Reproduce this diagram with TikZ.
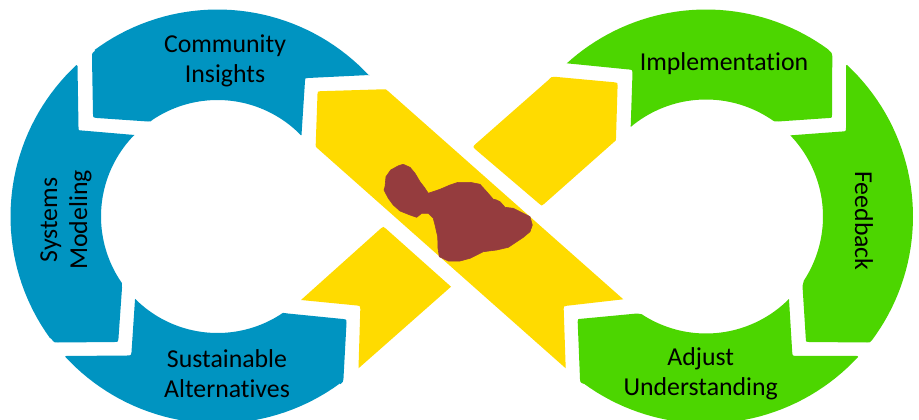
\documentclass[tikz,border=0pt]{standalone}
\usepackage{fontspec}
\setmainfont{Carlito}[Ligatures=NoCommon]
\definecolor{blueseg}{HTML}{0094C1}
\definecolor{greenseg}{HTML}{4CD600}
\definecolor{yellowseg}{HTML}{FFDB00}
\definecolor{mauibrown}{HTML}{953C3E}
\tikzset{
  lbl/.style={align=center,text=black,inner sep=0pt,font=\fontsize{25.8}{30}\selectfont},
  blueshape/.style={fill=blueseg},
  greenshape/.style={fill=greenseg},
  yellowshape/.style={fill=yellowseg}
}
\begin{document}
\begin{tikzpicture}[x=1pt,y=-1pt,samples=40,
  declare function={
    lx(\a,\r)=217.5+\r*cos(\a); ly(\a,\r)=216.5+\r*sin(\a);
    rx(\a,\r)=706+\r*cos(\a);   ry(\a,\r)=216.5+\r*sin(\a);
  }]
\useasboundingbox (0,0) rectangle (919,420);
\clip (0,0) rectangle (919,420);
\fill[white] (0,0) rectangle (919,420);

% Blue: Community Insights
\fill[blueshape] (92,58) .. controls (92,53) .. (95.5,50.5)
  -- plot[domain=-126.5:-43] ({lx(\x,207)},{ly(\x,207)})
  -- (369.5,75) -- (308,78) .. controls (305,78) .. (305,81) -- (301.5,135)
  -- plot[domain=-44.3:-123.8] ({lx(\x,116.5)},{ly(\x,116.5)})
  .. controls (151,121.5) .. (148,121.5) -- (97,118) .. controls (93,117.5) .. (93,114) -- cycle;
% Blue: Systems Modeling
\fill[blueshape] (77.5,66)
  -- (78.5,127) .. controls (78.5,130.5) .. (82,130.5) -- (134.5,135)
  -- plot[domain=-135.7:-214.7] ({lx(\x,116.5)},{ly(\x,116.5)})
  .. controls (122,284) .. (122,288) -- (118.5,338) .. controls (118,342) .. (114.5,342)
  -- (58,342.5) .. controls (54,342.5) .. (51.5,339)
  -- plot[domain=-215.9:-133] ({lx(\x,207)},{ly(\x,207)}) -- cycle;
% Blue: Sustainable Alternatives
\fill[blueshape] (66,356) -- (127,355.5) .. controls (131,355.5) .. (131.5,352) -- (135,299.5)
  -- plot[domain=135:55.8] ({lx(\x,116.5)},{ly(\x,116.5)})
  .. controls (285,313) .. (288,313.5) -- (343,319) .. controls (346.5,319.5) .. (346.5,323)
  -- (343.5,378) .. controls (343,382) .. (340.5,384)
  -- plot[domain=53.8:137.4] ({lx(\x,207)},{ly(\x,207)}) -- cycle;

% Green: Implementation
\fill[greenshape] (566.7,63.3) -- (629,69.5) .. controls (632.5,70) .. (632.5,73) -- (630.7,126.5)
  -- plot[domain=-129.8:-55.1] ({rx(\x,117)},{ry(\x,117)})
  .. controls (774.5,121.5) .. (778,121.5) -- (829,118) .. controls (832,118) .. (832,115)
  -- (832.3,56) .. controls (832,53) .. (828.5,50)
  -- plot[domain=-53.8:-132.3] ({rx(\x,207)},{ry(\x,207)}) -- cycle;
% Green: Feedback
\fill[greenshape] (846,65.7)
  -- plot[domain=-47.1:36.7] ({rx(\x,207)},{ry(\x,207)})
  .. controls (870,342.5) .. (867,342.5) -- (809,342) .. controls (806,342) .. (805.8,338.5)
  -- (802.5,286) .. controls (802.3,283) .. (804,280)
  -- plot[domain=32.9:-43.9] ({rx(\x,117)},{ry(\x,117)})
  -- (842,131.5) .. controls (846,131.3) .. (846,127.5) -- cycle;
% Green: Adjust Understanding
\fill[greenshape] (857.3,356) -- (796,355.8) .. controls (792.5,355.8) .. (792.2,352) -- (789,299.3)
  -- plot[domain=44.9:123.4] ({rx(\x,117)},{ry(\x,117)})
  .. controls (640,313.5) .. (637,313.5) -- (581,318.8) .. controls (577.7,319) .. (577.7,322)
  -- (580,379) .. controls (580,382) .. (583.3,383.8)
  -- plot[domain=126.3:42.7] ({rx(\x,207)},{ry(\x,207)}) -- cycle;

% Yellow ribbon, long
\fill[yellowshape] (317.5,94) .. controls (317.7,91.3) .. (320.5,91.2) -- (383,89.3)
  .. controls (386,89.2) .. (388.5,91.5) -- (623.3,299.3) -- (566.5,305.8)
  .. controls (563.5,306.3) .. (563.7,309) -- (565.7,368.3) -- (318,148.8)
  .. controls (315.7,147) .. (315.7,145) -- cycle;
% Yellow, lower left
\fill[yellowshape] (301,300) -- (357,305.5) .. controls (360.3,306) .. (360.3,309) -- (358.5,368.3)
  -- (451,286.7) -- (385.5,228.3) .. controls (383.3,226.5) .. (381,228.3) -- cycle;
% Yellow, upper right
\fill[yellowshape] (474.5,145) -- (549,79.5) .. controls (551.5,76.8) .. (555,76.8)
  -- (614.5,82.3) .. controls (617.6,82.7) .. (617.6,85.5) -- (616,138)
  .. controls (616,140.5) .. (614,142) -- (544,204) .. controls (541.7,206) .. (539.5,204)
  -- (475,149) .. controls (473,147) .. (474.5,145) -- cycle;

% Maui
\fill[mauibrown,draw=mauibrown,line width=0.6pt,line join=round]
 (385,186.7)--(386,176.7)--(390.7,170)--(396.7,166.7)--(399,165.5)--(403.3,164.3)--(407,166)--(410,167.3)--(415,173.3)--(420,181.7)
 --(425,188.3)--(428.3,193.3)--(440,189.3)--(450,185)--(458.3,182.3)--(470,182.3)--(480,184.3)--(486.7,191.7)
 --(493.3,199.3)--(496,199.8)--(500,201.7)--(505,207.3)--(513.3,208.3)--(523.3,213.3)--(530,216.7)--(532.3,225)--(530,231.7)
 --(523.3,237.3)--(516.7,241.7)--(508.3,247.3)--(496.7,250)--(483.3,251.7)--(470,258.3)--(460,261)--(448.3,261)
 --(439.3,256.7)--(438,248.3)--(437.7,236.7)--(435,225)--(433.3,218.3)--(428.3,213.3)--(421.7,213.3)--(416.7,217.3)
 --(410,215)--(400,211)--(393.3,205)--(388.3,198.3)--(384,190)--cycle;

% Labels
\node[lbl] (community) at (225,61) {Community\\Insights};
\node[lbl,rotate=90] (systems) at (66,220) {Systems\\Modeling};
\node[lbl] (sustainable) at (227,374) {Sustainable\\Alternatives};
\node[lbl] (implementation) at (724,64) {Implementation};
\node[lbl,rotate=-90] (feedback) at (864,221) {Feedback};
\node[lbl] (adjust) at (700.7,374) {Adjust\\Understanding};
\end{tikzpicture}
\end{document}
